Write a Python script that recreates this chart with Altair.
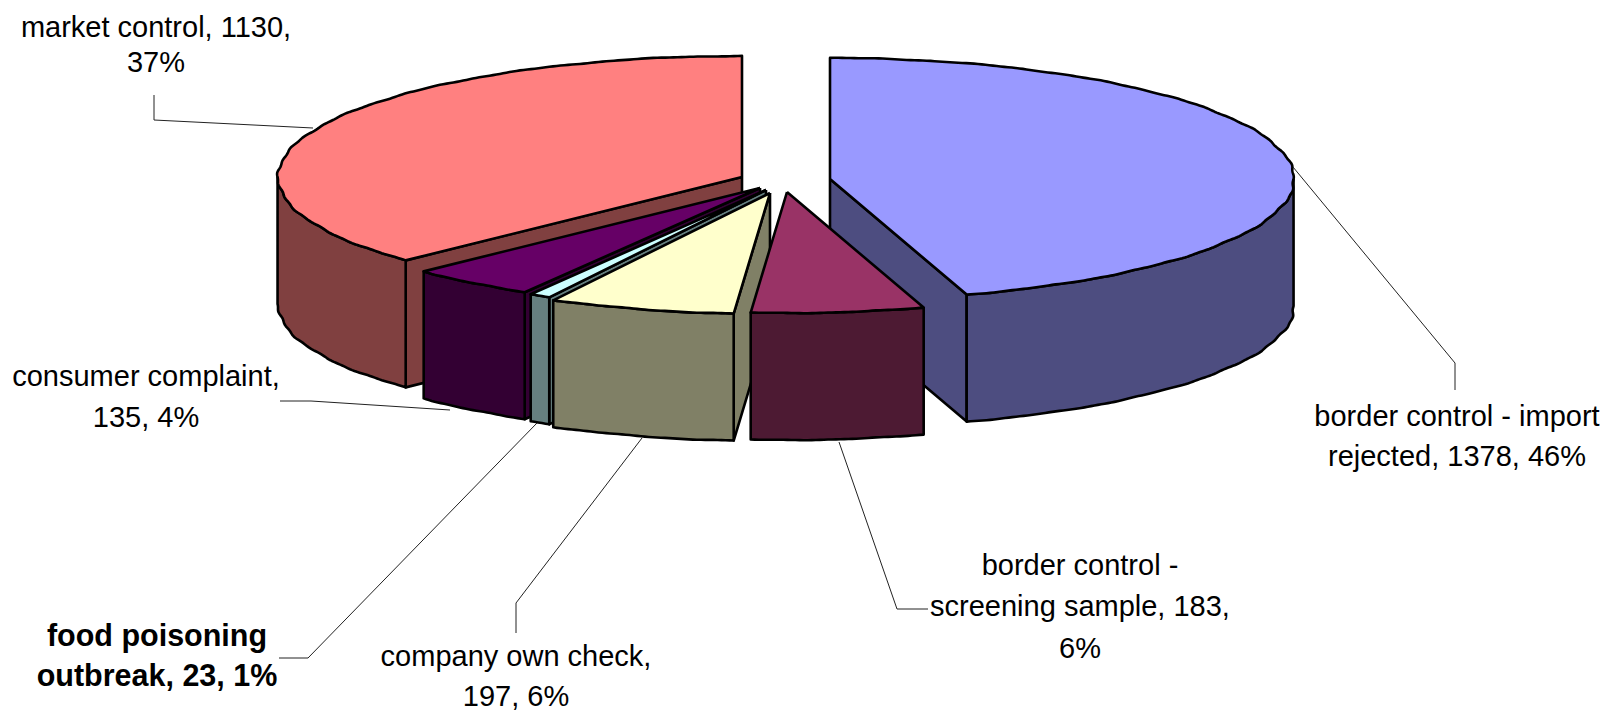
import math
import altair as alt
import pandas as pd

# ---- chart values ----
categories = ["border control - import rejected", "border control - screening sample",
              "company own check", "food poisoning outbreak", "consumer complaint", "market control"]
values = [1378, 183, 197, 23, 135, 1130]
top_colors = ["#9999FF", "#993366", "#FFFFCC", "#CCFFFF", "#660066", "#FF8080"]
side_colors = ["#4D4D80", "#4D1A33", "#808066", "#668080", "#330033", "#804040"]

label_lines = [["border control - import", "rejected, 1378, 46%"],
               ["border control -", "screening sample, 183,", "6%"],
               ["company own check,", "197, 6%"],
               ["food poisoning", "outbreak, 23, 1%"],
               ["consumer complaint,", "135, 4%"],
               ["market control, 1130,", "37%"]]

# ---- layout of the exploded 3D pie (picture coordinates) ----
apex_x = [830, 787, 770, 766, 760, 742]
apex_y = [179, 192, 193, 190, 188, 177]
semi_a, semi_b, depth = 464, 121, 127
label_x = [1457, 1080, 516, 157, 146, 156]
label_y = [[417, 457], [566, 607, 649], [657, 697], [637, 677], [377, 418], [28, 63]]
leaders = [[(1293, 167), (1455, 363), (1455, 390)],
           [(839, 442), (897, 609), (928, 609)],
           [(642, 438), (516, 603), (516, 633)],
           [(537, 423), (308, 658), (279, 658)],
           [(450, 410), (311, 401), (280, 401)],
           [(313, 128), (154, 120), (154, 95)]]
draw_order = [0, 5, 4, 3, 2, 1]

X = alt.X("x:Q", scale=alt.Scale(domain=[8, 1600], nice=False, zero=False), axis=None)
Y = alt.Y("y:Q", scale=alt.Scale(domain=[703, 8], nice=False, zero=False), axis=None)


def rim(cx, cy, t, dy=0.0):
    a = math.radians(t)
    r = 1 + 0.0016 * math.sin(a * 23) + 0.0012 * math.sin(a * 61 + 1)
    return (cx + semi_a * r * math.sin(a), cy - semi_b * r * math.cos(a) + dy)


def arc(cx, cy, t0, t1, dy=0.0):
    n = max(2, int(abs(t1 - t0) * 2))
    return [rim(cx, cy, t0 + (t1 - t0) * i / n, dy) for i in range(n + 1)]


def polygon(points, fill, width=2.6):
    pts = list(points) + [points[0]]
    df = pd.DataFrame({"x": [p[0] for p in pts], "y": [p[1] for p in pts], "o": range(len(pts))})
    return alt.Chart(df).mark_line(fill=fill, stroke="black", strokeWidth=width,
                                   strokeJoin="round", clip=False).encode(
        x=X, y=Y, order=alt.Order("o:Q"))


total = sum(values)
starts, t = [], 0.0
for v in values:
    starts.append(t)
    t += v / total * 360

layers = []
for i in draw_order:
    cx, cy = apex_x[i], apex_y[i]
    t0, t1 = starts[i], starts[i] + values[i] / total * 360
    top, side = top_colors[i], side_colors[i]
    # cut wall that faces the viewer
    if i == 0:
        e = rim(cx, cy, t1)
        layers.append(polygon([(cx, cy), e, (e[0], e[1] + depth), (cx, cy + depth)], side))
    else:
        e = rim(cx, cy, t0)
        if i != 1:
            layers.append(polygon([(cx, cy), e, (e[0], e[1] + depth), (cx, cy + depth)], side))
    # outer rim wall
    lo, hi = max(t0, 90), min(t1, 270)
    if lo < hi:
        layers.append(polygon(arc(cx, cy, lo, hi) + arc(cx, cy, hi, lo, depth), side))
    # top face
    layers.append(polygon([(cx, cy)] + arc(cx, cy, t0, t1), top))

for k, pts in enumerate(leaders):
    df = pd.DataFrame({"x": [p[0] for p in pts], "y": [p[1] for p in pts], "o": range(len(pts))})
    layers.append(alt.Chart(df).mark_line(color="#222222", strokeWidth=1).encode(
        x=X, y=Y, order=alt.Order("o:Q")))

for i, lines in enumerate(label_lines):
    df = pd.DataFrame({"x": [label_x[i]] * len(lines), "y": label_y[i], "t": lines})
    layers.append(alt.Chart(df).mark_text(
        font="Liberation Sans", fontSize=30.5 if i == 3 else 29, color="black", align="center",
        baseline="middle", fontWeight="bold" if i == 3 else "normal").encode(x=X, y=Y, text="t:N"))

chart = alt.layer(*layers).properties(width=1592, height=695, padding=0).configure_view(stroke=None)
chart.save("out.html", embed_options={"renderer": "svg", "actions": False})
